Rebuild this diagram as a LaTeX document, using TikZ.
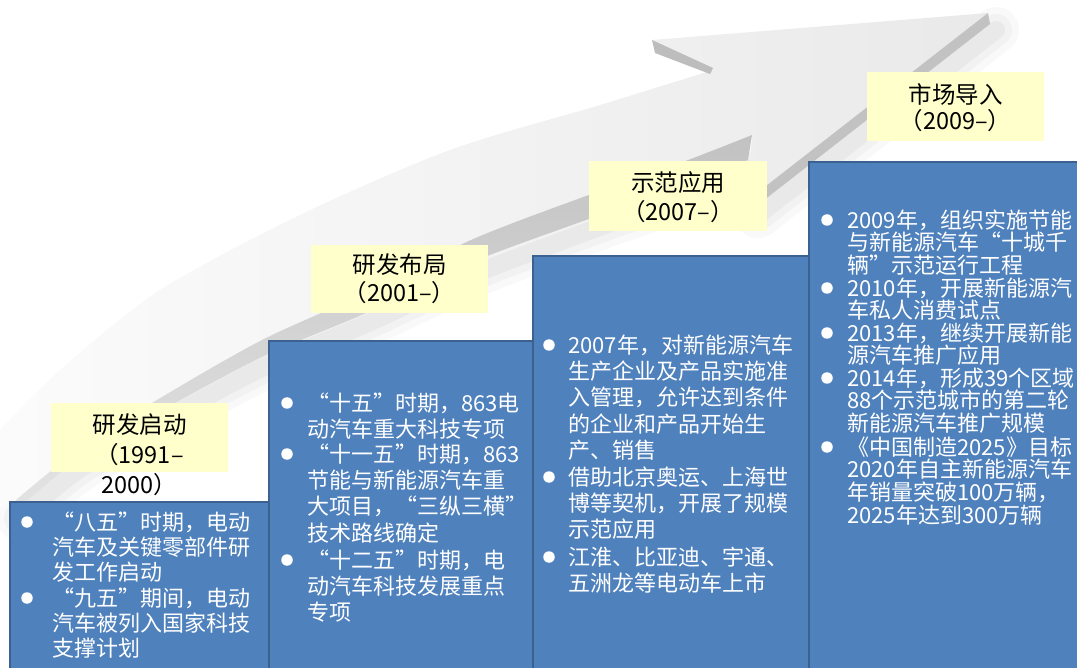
\documentclass[tikz,border=0pt]{standalone}
\usepackage{fontspec}
\newfontfamily\cjk{Noto Sans CJK SC}
\definecolor{boxblue}{HTML}{4F81BD}
\definecolor{boxedge}{HTML}{3A6190}
\definecolor{labelyellow}{HTML}{FFFFCC}
\tikzset{
 stepbox/.style={draw=boxedge, line width=2.2pt, fill=boxblue, anchor=north west, inner sep=0pt},
 tag/.style={fill=labelyellow, anchor=north west, inner sep=0pt},
 tagtext/.style={font=\cjk\fontsize{23.5}{#1}\selectfont, text width=180pt, align=center, anchor=base, inner sep=0pt},
 bodytext/.style={font=\cjk\fontsize{22}{#1}\selectfont, text=white, text width=330pt, align=left, anchor=base west, inner sep=0pt},
 dot/.style={circle, fill=white, minimum size=11.5pt, inner sep=0pt},
 softshadow/.style={gray, line cap=round, line join=round},
}
\begin{document}
\begin{tikzpicture}[x=1pt,y=-1pt]
\useasboundingbox (0,0) rectangle (1077,668);
% ---------- arrow: soft shadows ----------
\foreach \w/\o in {46/0.05, 32/0.06, 18/0.08}{
  \draw[softshadow, line width=\w pt, opacity=\o] plot[smooth] coordinates {(752,168) (660,205) (575,236) (470,276) (366,324) (262,368) (157,424) (78,470) (20,518)};
  \draw[softshadow, line width=\w pt, opacity=\o] (996,30) -- (758,215);
}
% ---------- arrow: top surface ----------
\shade[left color=gray!3, right color=gray!17]
  (652,40) -- (988,13) -- (748,200) -- (752,135)
  -- plot[smooth] coordinates {(752,135) (680,163) (575,200) (471,240) (366,293) (262,340) (157,400) (78,450) (16,500)}
  -- (0,508) -- (0,430)
  -- plot[smooth] coordinates {(0,430) (60,370) (160,290) (300,215) (450,150) (600,105) (713,70)}
  -- cycle;
% ---------- arrow: underside band ----------
\shade[top color=gray!48, bottom color=gray!22]
  (752,135) -- (748,160)
  -- plot[smooth] coordinates {(748,160) (660,194) (575,224) (470,263) (366,313) (262,357) (157,413) (78,459) (20,507)}
  -- (16,500)
  -- plot[smooth] coordinates {(16,500) (78,450) (157,400) (262,340) (366,293) (471,240) (575,200) (680,163) (752,135)}
  -- cycle;
% ---------- arrow: thickness faces ----------
\fill[gray!52] (652,40) -- (713,68) -- (710,74) -- (655,53) -- cycle;
\fill[gray!48] (988,13) -- (990,24) -- (750,211) -- (748,200) -- cycle;
% ---------- step boxes ----------
\node[stepbox, minimum width=259pt, minimum height=190pt] (box1) at (9,501) {};
\node[stepbox, minimum width=264pt, minimum height=350pt] (box2) at (268,340) {};
\node[stepbox, minimum width=276pt, minimum height=440pt] (box3) at (532,255) {};
\node[stepbox, minimum width=300pt, minimum height=540pt] (box4) at (808,161) {};
% ---------- stage labels ----------
\node[tag, minimum width=177pt, minimum height=69pt] (tag1) at (51,403) {};
\node[tag, minimum width=177pt, minimum height=68pt] (tag2) at (311,245) {};
\node[tag, minimum width=178pt, minimum height=70pt] (tag3) at (589,161) {};
\node[tag, minimum width=177pt, minimum height=69pt] (tag4) at (867,72) {};
\node[tagtext=29.5] (tag1t) at (139.5,434) {研发启动\\（1991–\\2000）};
\node[tagtext=28] (tag2t) at (399.5,274) {研发布局\\（2001–）};
\node[tagtext=29] (tag3t) at (678,192) {示范应用\\（2007–）};
\node[tagtext=26] (tag4t) at (955.5,104) {市场导入\\（2009–）};
% ---------- box 1 ----------
\node[dot] (d11) at (27,522) {};
\node[bodytext=25.3] (t11) at (52,530.3) {“八五”时期，电动\\汽车及关键零部件研\\发工作启动};
\node[dot] (d12) at (27,598) {};
\node[bodytext=25.3] (t12) at (52,606.3) {“九五”期间，电动\\汽车被列入国家科技\\支撑计划};
% ---------- box 2 ----------
\node[dot] (d21) at (287,403) {};
\node[bodytext=26.3] (t21) at (307,411.3) {“十五”时期，863电\\动汽车重大科技专项};
\node[dot] (d22) at (287,454) {};
\node[bodytext=26.3] (t22) at (307,462.3) {“十一五”时期，863\\节能与新能源汽车重\\大项目，“三纵三横”\\技术路线确定};
\node[dot] (d23) at (287,560) {};
\node[bodytext=26.3] (t23) at (307,568.3) {“十二五”时期，电\\动汽车科技发展重点\\专项};
% ---------- box 3 ----------
\node[dot] (d31) at (549,345) {};
\node[bodytext=26.3] (t31) at (568,353.3) {2007年，对新能源汽车\\生产企业及产品实施准\\入管理，允许达到条件\\的企业和产品开始生\\产、销售};
\node[dot] (d32) at (549,477) {};
\node[bodytext=26.3] (t32) at (568,485.3) {借助北京奥运、上海世\\博等契机，开展了规模\\示范应用};
\node[dot] (d33) at (549,557) {};
\node[bodytext=26.3] (t33) at (568,565.3) {江淮、比亚迪、宇通、\\五洲龙等电动车上市};
% ---------- box 4 ----------
\node[dot] (d41) at (827,220) {};
\node[bodytext=22.6] (t41) at (847,228.3) {2009年，组织实施节能\\与新能源汽车“十城千\\辆”示范运行工程};
\node[dot] (d42) at (827,288) {};
\node[bodytext=22.6] (t42) at (847,296.3) {2010年，开展新能源汽\\车私人消费试点};
\node[dot] (d43) at (827,333) {};
\node[bodytext=22.6] (t43) at (847,341.3) {2013年，继续开展新能\\源汽车推广应用};
\node[dot] (d44) at (827,378) {};
\node[bodytext=22.6] (t44) at (847,386.3) {2014年，形成39个区域\\88个示范城市的第二轮\\新能源汽车推广规模};
\node[dot] (d45) at (827,447) {};
\node[bodytext=22.6] (t45) at (847,455.3) {《中国制造2025》目标\\2020年自主新能源汽车\\年销量突破100万辆，\\2025年达到300万辆};
\end{tikzpicture}
\end{document}
